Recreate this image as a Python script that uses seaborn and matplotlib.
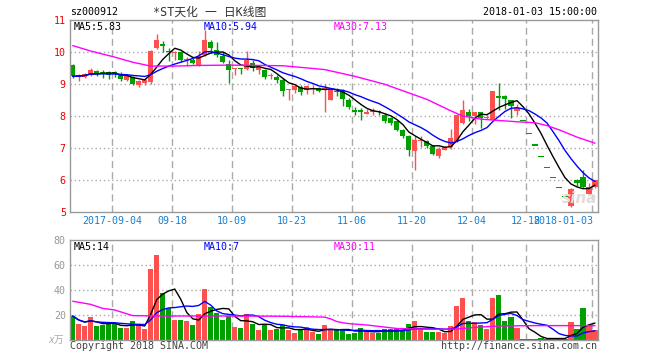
"""
*ST天化 daily K-line chart (price candles + volume), Sina style.
"""
import numpy as np
import pandas as pd
import matplotlib
matplotlib.use('Agg')
import matplotlib.pyplot as plt
import seaborn as sns

# Daily OHLC (88 trading days, 2017-08-24 .. 2018-01-03)
opens = [9.60, 9.23, 9.22, 9.27, 9.40, 9.35, 9.37, 9.33, 9.31, 9.14,
         9.22, 8.98, 9.03, 9.05, 10.12, 10.22, 10.03, 9.96, 9.99, 9.75,
         9.76, 9.60, 9.92, 10.30, 10.07, 9.88, 9.63, 9.46, 9.48, 9.47,
         9.66, 9.43, 9.43, 9.25, 9.22, 9.14, 8.80, 8.80, 8.90, 8.82,
         8.83, 8.88, 8.83, 8.51, 8.77, 8.77, 8.51, 8.16, 8.20, 8.07,
         8.14, 8.14, 8.04, 7.94, 7.83, 7.55, 7.38, 6.90, 7.22, 7.23,
         7.07, 6.74, 6.95, 7.03, 7.22, 7.78, 8.14, 7.99, 8.14, 7.93,
         7.88, 8.63, 8.63, 8.50, 8.17, 7.83, 7.44, 7.07, 6.71, 6.38,
         6.06, 5.75, 5.47, 5.20, 6.00, 6.09, 5.57, 5.78]
highs = [9.62, 9.30, 9.33, 9.50, 9.43, 9.43, 9.40, 9.40, 9.36, 9.29,
         9.26, 9.14, 9.19, 10.05, 10.57, 10.34, 10.12, 10.02, 10.02, 9.84,
         9.81, 10.02, 10.70, 10.38, 10.30, 10.02, 9.74, 9.50, 9.49, 10.02,
         9.76, 9.53, 9.47, 9.34, 9.29, 9.19, 8.84, 8.98, 8.98, 8.98,
         8.97, 8.92, 9.01, 8.88, 8.87, 8.84, 8.56, 8.28, 8.25, 8.22,
         8.25, 8.20, 8.09, 7.97, 7.86, 7.59, 7.41, 7.36, 7.36, 7.26,
         7.10, 7.03, 7.07, 7.59, 8.06, 8.51, 8.22, 8.14, 8.14, 8.04,
         8.77, 9.03, 8.65, 8.51, 8.38, 7.83, 7.44, 7.07, 6.71, 6.38,
         6.06, 5.75, 5.47, 5.75, 6.02, 6.32, 5.91, 6.00]
lows = [9.18, 9.08, 9.20, 9.24, 9.26, 9.19, 9.16, 9.22, 9.08, 9.08,
        8.98, 8.90, 8.98, 9.00, 10.09, 9.99, 9.71, 9.76, 9.68, 9.55,
        9.63, 9.57, 9.89, 9.97, 9.84, 9.66, 9.03, 9.29, 9.32, 9.43,
        9.40, 9.32, 9.16, 9.16, 9.03, 8.61, 8.51, 8.72, 8.67, 8.70,
        8.70, 8.75, 8.11, 8.50, 8.63, 8.30, 8.22, 8.04, 7.88, 8.07,
        8.04, 8.04, 7.78, 7.73, 7.52, 7.31, 6.76, 6.32, 7.03, 7.00,
        6.79, 6.69, 6.93, 6.97, 7.20, 7.76, 7.83, 7.76, 7.62, 7.91,
        7.86, 8.20, 8.22, 7.93, 8.04, 7.83, 7.44, 7.07, 6.71, 6.38,
        6.06, 5.75, 5.47, 5.17, 5.80, 5.76, 5.54, 5.76]
closes = [9.24, 9.25, 9.31, 9.45, 9.32, 9.34, 9.28, 9.32, 9.16, 9.24,
          9.01, 9.10, 9.14, 10.02, 10.38, 10.20, 10.00, 9.98, 9.74, 9.78,
          9.66, 9.89, 10.38, 10.13, 9.92, 9.68, 9.43, 9.48, 9.46, 9.76,
          9.50, 9.52, 9.22, 9.27, 9.11, 8.77, 8.82, 8.93, 8.74, 8.93,
          8.85, 8.77, 8.85, 8.84, 8.75, 8.53, 8.28, 8.14, 8.11, 8.14,
          8.15, 8.12, 7.83, 7.78, 7.57, 7.36, 6.95, 7.26, 7.23, 7.07,
          6.82, 6.97, 7.03, 7.31, 8.04, 8.20, 7.99, 8.13, 7.93, 7.95,
          8.77, 8.56, 8.53, 8.30, 8.24, 7.83, 7.44, 7.07, 6.71, 6.38,
          6.06, 5.75, 5.47, 5.72, 5.92, 5.78, 5.78, 6.00]

# Volume in 万手
volumes = [19.2, 12.8, 11.2, 18.1, 11.2, 12.3, 12.8, 12.8, 9.6, 9.6,
           15.2, 12.8, 8.8, 56.8, 68.0, 37.3, 25.6, 16.0, 16.0, 15.2,
           12.0, 20.8, 40.8, 26.7, 21.9, 16.0, 19.2, 10.7, 9.6, 20.8,
           12.8, 8.0, 12.0, 8.0, 8.8, 11.7, 8.0, 5.3, 8.0, 10.1,
           6.7, 4.8, 12.0, 9.1, 8.0, 8.0, 4.8, 5.9, 9.6, 6.7,
           5.9, 5.3, 8.8, 8.8, 8.8, 8.0, 12.5, 15.2, 9.3, 6.1,
           6.1, 6.1, 5.3, 10.9, 26.9, 33.3, 15.2, 14.1, 12.0, 8.8,
           33.3, 35.7, 15.2, 18.4, 9.6, 1.0, 1.0, 1.0, 1.9, 1.0,
           1.0, 1.0, 1.0, 14.1, 8.8, 25.6, 11.2, 8.0]

# 30-day averages (history before the window is not shown)
ma30_idx = [0, 3, 7, 10, 13, 17, 21, 26, 31, 35, 38, 42, 47, 52, 56, 59, 63,
            65, 68, 71, 74, 77, 79, 81, 84, 87]
ma30_val = [10.20, 10.03, 9.84, 9.68, 9.56, 9.56, 9.58, 9.59, 9.58, 9.57,
            9.52, 9.45, 9.24, 8.99, 8.72, 8.52, 8.16, 8.00, 7.90, 7.86,
            7.82, 7.79, 7.70, 7.57, 7.34, 7.15]
vma30_idx = [0, 3, 5, 7, 10, 15, 27, 35, 42, 43, 44, 45, 46, 49, 54, 60, 64,
             67, 71, 77, 87]
vma30_val = [31.0, 28.5, 25.3, 24.0, 19.5, 19.2, 19.2, 19.0, 18.3, 16.8, 14.8,
             13.8, 13.1, 12.0, 9.2, 8.5, 8.8, 10.1, 11.2, 11.5, 11.5]

date_idx = [7, 17, 27, 37, 47, 57, 67, 76, 87]
date_labels = ['2017-09-04', '09-18', '10-09', '10-23', '11-06', '11-20',
               '12-04', '12-18', '2018-01-03']

RED = '#ff5050'
GREEN = '#00a000'
GRID = '#aaaaaa'
W, H = 660, 360

sns.set_style('white')
plt.rcParams['font.family'] = ['DejaVu Sans Mono', 'Noto Sans CJK SC']

o = np.array(opens)
h = np.array(highs)
l = np.array(lows)
c = np.array(closes)
v = np.array(volumes)
x = np.arange(len(c))
prev = np.r_[c[0], c[:-1]]
up = (c > o) | ((c == o) & (c >= prev))
cols = np.where(up, RED, GREEN)

cs = pd.Series(c)
ma5 = cs.rolling(5, min_periods=1).mean()
ma10 = cs.rolling(10, min_periods=1).mean()
vs = pd.Series(v)
vma5 = vs.rolling(5, min_periods=1).mean()
vma10 = vs.rolling(10, min_periods=1).mean()

fig = plt.figure(figsize=(6.6, 3.6), dpi=100)
ax = fig.add_axes([70 / W, 1 - 212 / H, 528 / W, 192 / H])
axv = fig.add_axes([70 / W, 1 - 340 / H, 528 / W, 100 / H])

xlim = (-0.45, 87.5)
grid_x = [i - 0.45 for i in date_idx]

# price panel
for gx in grid_x:
    ax.axvline(gx, color=GRID, lw=1, dashes=(5, 3), zorder=0)
for gy in [6, 7, 8, 9, 10]:
    ax.axhline(gy, color=GRID, lw=1, ls=(0, (1, 2)), zorder=0)
ax.vlines(x, l, h, colors=cols, lw=1, zorder=2)
ax.bar(x, np.maximum(np.abs(c - o), 0.04), bottom=np.minimum(o, c),
       width=0.85, color=cols, lw=0, zorder=2)
sns.lineplot(x=x, y=ma5.values, color='black', lw=1, ax=ax, zorder=3)
sns.lineplot(x=x, y=ma10.values, color='#0000ff', lw=1, ax=ax, zorder=3)
sns.lineplot(x=ma30_idx, y=ma30_val, color='#ff00ff', lw=1, ax=ax, zorder=3)
ax.set_xlim(*xlim)
ax.set_ylim(5, 11)
ax.set_yticks([5, 6, 7, 8, 9, 10, 11])
ax.set_yticklabels(['5', '6', '7', '8', '9', '10', '11'], color='#ee0000', fontsize=7.2)
ax.set_xticks([])

# volume panel
for gx in grid_x:
    axv.axvline(gx, color=GRID, lw=1, dashes=(5, 3), zorder=0)
for gy in [20, 40, 60]:
    axv.axhline(gy, color=GRID, lw=1, ls=(0, (1, 2)), zorder=0)
axv.bar(x, v, width=0.85, color=cols, lw=0, zorder=2)
sns.lineplot(x=x, y=vma5.values, color='black', lw=1, ax=axv, zorder=3)
sns.lineplot(x=x, y=vma10.values, color='#0000ff', lw=1, ax=axv, zorder=3)
sns.lineplot(x=vma30_idx, y=vma30_val, color='#ff00ff', lw=1, ax=axv, zorder=3)
axv.set_xlim(*xlim)
axv.set_ylim(0, 80)
axv.set_yticks([20, 40, 60, 80])
axv.set_yticklabels(['20', '40', '60', '80'], color='#999999', fontsize=7.2)
axv.set_xticks([])

for a in (ax, axv):
    a.set_xlabel('')
    a.set_ylabel('')
    a.tick_params(axis='y', length=0, pad=3)
    for s in a.spines.values():
        s.set_color('#999999')
        s.set_linewidth(1)
        s.set_visible(True)


def ftext(px, py, s, **kw):
    kw.setdefault('va', 'center')
    kw.setdefault('fontsize', 7.2)
    fig.text(px / W, 1 - py / H, s, **kw)


# header
ftext(70, 12, 'sz000912', color='black')
ftext(210, 12, '*ST天化 一 日K线图', color='#333333', ha='center', fontsize=8.5)
ftext(597, 12, '2018-01-03 15:00:00', color='black', ha='right')

# moving-average legends
ftext(74, 27, 'MA5:5.83', color='black')
ftext(204, 27, 'MA10:5.94', color='#0000ff')
ftext(334, 27, 'MA30:7.13', color='#ff00ff')
ftext(74, 247, 'MA5:14', color='black')
ftext(204, 247, 'MA10:7', color='#0000ff')
ftext(334, 247, 'MA30:11', color='#ff00ff')

# date labels (the last two overlap in the original as well)
for gx, lab in zip(grid_x, date_labels):
    px = 72.7 + 6 * gx
    ha = 'right' if lab.startswith('2018') else 'center'
    if ha == 'right':
        px += 1
    ftext(px, 221, lab, color='#1a7fd0', ha=ha)

# watermark + footer
ftext(580, 198, 'sina', color='#e4dcdc', ha='center', fontsize=11,
      fontstyle='italic', fontweight='bold', family='DejaVu Sans')
ftext(56, 340, 'x万', color='#aaaaaa', ha='center', fontsize=7,
      fontstyle='italic')
ftext(70, 346, 'Copyright 2018 SINA.COM', color='#444444')
ftext(597, 346, 'http://finance.sina.com.cn', color='#444444', ha='right')

fig.savefig('out.png', dpi=100)
plt.close(fig)
